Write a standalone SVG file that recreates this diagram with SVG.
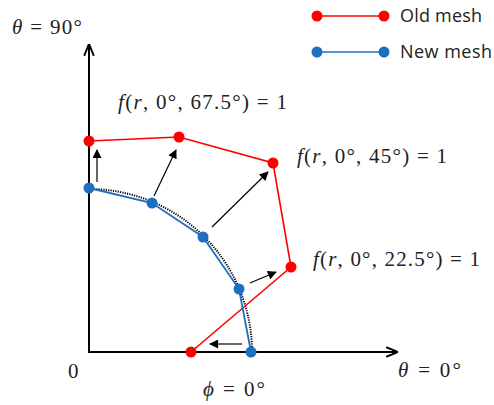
<svg xmlns="http://www.w3.org/2000/svg" width="494" height="405" viewBox="0 0 494 405">
<defs>
<marker id="ah" viewBox="0 0 10 10" refX="9" refY="5" markerWidth="10" markerHeight="9" orient="auto" markerUnits="userSpaceOnUse"><path d="M0,0 L10,5 L0,10 z" fill="#000"/></marker>
<marker id="axh" viewBox="0 0 10 10" refX="9" refY="5" markerWidth="12" markerHeight="12" orient="auto" markerUnits="userSpaceOnUse"><path d="M0,1 L10,5 L0,9" fill="none" stroke="#000" stroke-width="1.6"/></marker>
<style>
.m{font-family:"Liberation Serif","DejaVu Serif",serif;font-size:21px;fill:#222}
.i{font-style:italic}
.s{font-family:"Open Sans","Liberation Sans",sans-serif;font-size:18px;fill:#222}
.red{stroke:#ff0000;stroke-width:1.6;fill:none}
.blue{stroke:#1f6fc0;stroke-width:1.8;fill:none}
.rd{fill:#ff0000}
.bd{fill:#1f6fc0}
.ar{stroke:#000;stroke-width:1.2;fill:none;marker-end:url(#ah)}
.ax{stroke:#000;stroke-width:2;fill:none;marker-end:url(#axh)}
</style>
</defs>
<g id="axes">
<line class="ax" x1="89" y1="353" x2="89" y2="45"/>
<line class="ax" x1="88" y1="352" x2="397" y2="352"/>
</g>
<g id="arc">
<path d="M89,189 A163,163 0 0 1 252,352" fill="none" stroke="#000" stroke-width="2" stroke-dasharray="1.2,1.2"/>
</g>
<g id="old-mesh">
<polyline class="red" points="89,141 179,137 273,163 291,267 191,352"/>
<circle class="rd" cx="89" cy="141" r="5.5"/>
<circle class="rd" cx="179" cy="137" r="5.5"/>
<circle class="rd" cx="273" cy="163" r="5.5"/>
<circle class="rd" cx="291" cy="267" r="5.5"/>
<circle class="rd" cx="191" cy="352" r="5.5"/>
</g>
<g id="new-mesh">
<polyline class="blue" points="89,188 152,203 203,237 239,289 251,352"/>
<circle class="bd" cx="89" cy="188" r="5.5"/>
<circle class="bd" cx="152" cy="203" r="5.5"/>
<circle class="bd" cx="203" cy="237" r="5.5"/>
<circle class="bd" cx="239" cy="289" r="5.5"/>
<circle class="bd" cx="251" cy="352" r="5.5"/>
</g>
<g id="connectors">
<line class="ar" x1="97" y1="182" x2="97" y2="150"/>
<line class="ar" x1="154" y1="196" x2="176" y2="150"/>
<line class="ar" x1="212" y1="227" x2="268" y2="172"/>
<line class="ar" x1="250" y1="283" x2="276" y2="272"/>
<line class="ar" x1="242" y1="344" x2="210" y2="344"/>
</g>
<g id="labels">
<text class="m" x="12" y="34" textLength="70" lengthAdjust="spacing"><tspan class="i">θ</tspan> = 90°</text>
<text class="m" x="118" y="109" textLength="169" lengthAdjust="spacing"><tspan class="i">f</tspan>(<tspan class="i">r</tspan>, 0°, 67.5°) = 1</text>
<text class="m" x="297" y="163" textLength="150" lengthAdjust="spacing"><tspan class="i">f</tspan>(<tspan class="i">r</tspan>, 0°, 45°) = 1</text>
<text class="m" x="313" y="266" textLength="167" lengthAdjust="spacing"><tspan class="i">f</tspan>(<tspan class="i">r</tspan>, 0°, 22.5°) = 1</text>
<text class="m" x="68" y="378">0</text>
<text class="m" x="203" y="396" textLength="62" lengthAdjust="spacing"><tspan class="i">ϕ</tspan> = 0°</text>
<text class="m" x="398" y="377" textLength="63" lengthAdjust="spacing"><tspan class="i">θ</tspan> = 0°</text>
</g>
<g id="legend">
<line x1="317" y1="16" x2="384" y2="16" stroke="#ff0000" stroke-width="1.6"/>
<circle class="rd" cx="317" cy="16" r="5.5"/>
<circle class="rd" cx="384" cy="16" r="5.5"/>
<text class="s" x="400" y="22" textLength="82" lengthAdjust="spacing">Old mesh</text>
<line x1="317" y1="52" x2="384" y2="52" stroke="#1f6fc0" stroke-width="1.6"/>
<circle class="bd" cx="317" cy="52" r="5.5"/>
<circle class="bd" cx="384" cy="52" r="5.5"/>
<text class="s" x="400" y="58" textLength="92" lengthAdjust="spacing">New mesh</text>
</g>
</svg>
